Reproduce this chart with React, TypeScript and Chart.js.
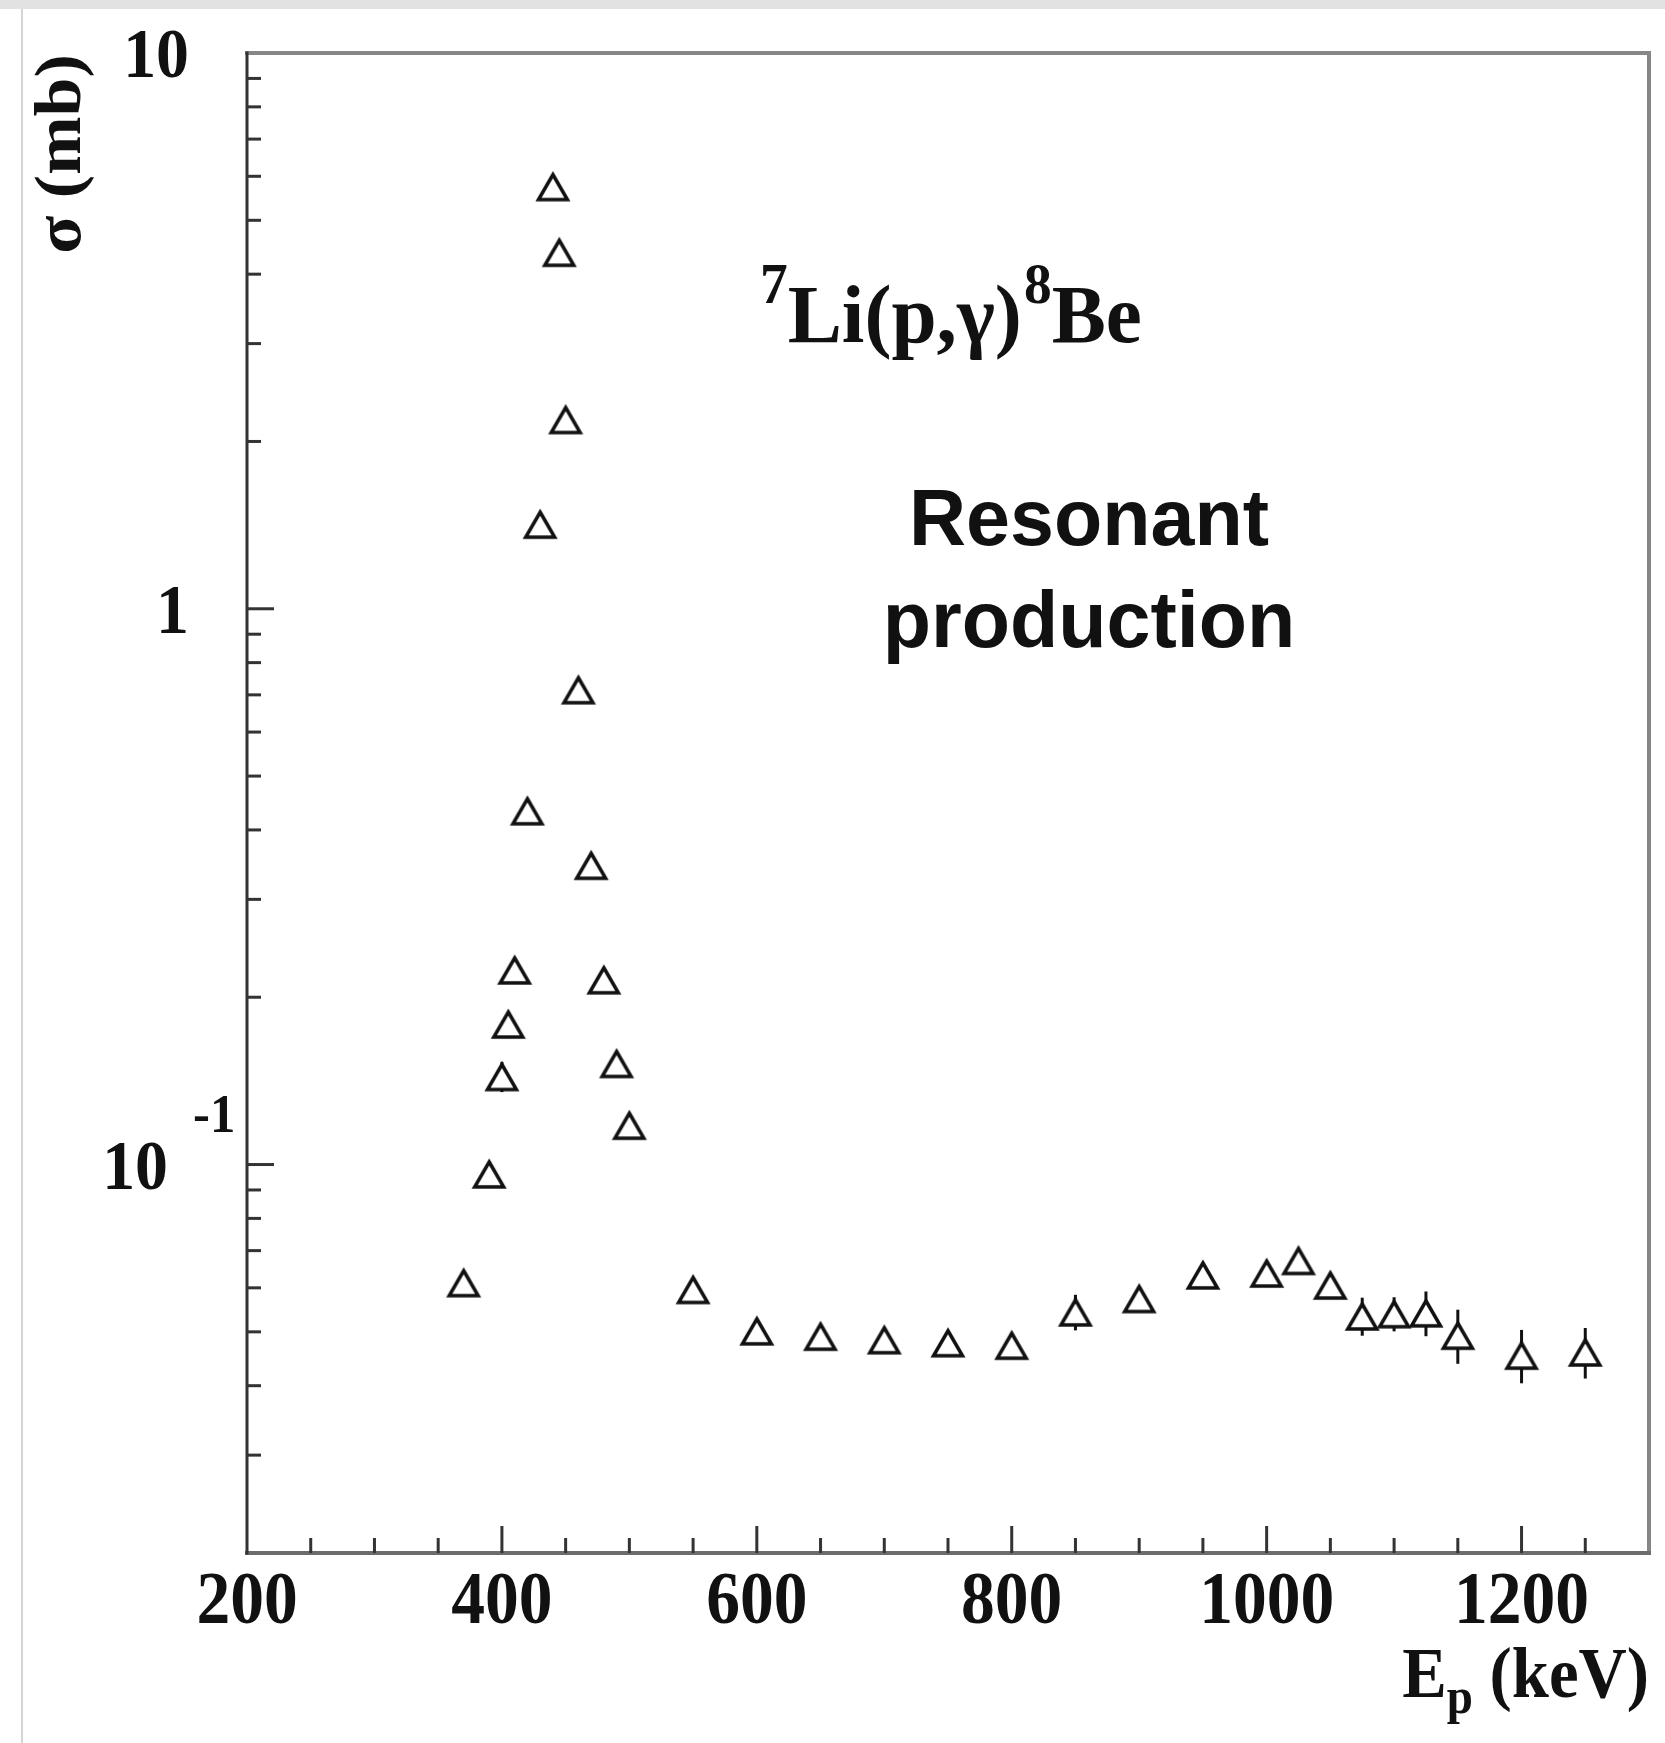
import React, { useEffect, useRef } from 'react';
import { Chart, registerables } from 'chart.js';

Chart.register(...registerables);

// Proton energy (keV) and measured cross section (mb) for 7Li(p,γ)8Be
const energyKeV = [
  370, 390, 400, 405, 410, 420, 430, 440, 445, 450, 460, 470, 480, 490, 500,
  550, 600, 650, 700, 750, 800, 850, 900, 950, 1000, 1025, 1050, 1075, 1100,
  1125, 1150, 1200, 1250,
];
const sigmaMb = [
  0.0613, 0.0962, 0.144, 0.179, 0.224, 0.433, 1.42, 5.75, 4.38, 2.19, 0.715,
  0.3455, 0.215, 0.152, 0.1177, 0.0596, 0.0502, 0.0491, 0.0484, 0.0478, 0.0473,
  0.0543, 0.0574, 0.0633, 0.0638, 0.0672, 0.0607, 0.0534, 0.0539, 0.0541,
  0.0493, 0.0454, 0.046,
];
const sigmaErr = [
  0.003, 0.004, 0.009, 0.008, 0.009, 0.015, 0.05, 0.2, 0.15, 0.08, 0.025,
  0.012, 0.008, 0.006, 0.005, 0.002, 0.002, 0.002, 0.002, 0.002, 0.002,
  0.004, 0.0025, 0.0025, 0.0025, 0.003, 0.0025, 0.0042, 0.0038, 0.005,
  0.0055, 0.005, 0.0048,
];

// Axis ranges and labelled ticks
const xRange = [200, 1300];
const yRange = [0.02, 10];
const xTickLabels = [200, 400, 600, 800, 1000, 1200];
const xMinorStep = 50;
const yTickLabels = [0.1, 1, 10];

const SERIF = '"Liberation Serif", "Times New Roman", serif';
const SANS = '"Liberation Sans", Arial, Helvetica, sans-serif';
const INK = '#111';

type Ctx = CanvasRenderingContext2D;

function drawText(
  ctx: Ctx,
  s: string,
  x: number,
  y: number,
  font: string,
  align: CanvasTextAlign,
  sx = 1,
): number {
  ctx.save();
  ctx.font = font;
  ctx.fillStyle = INK;
  ctx.textAlign = align;
  ctx.textBaseline = 'alphabetic';
  ctx.translate(x, y);
  ctx.scale(sx, 1);
  ctx.fillText(s, 0, 0);
  const w = ctx.measureText(s).width * sx;
  ctx.restore();
  return w;
}

function measure(ctx: Ctx, s: string, font: string, sx = 1): number {
  ctx.save();
  ctx.font = font;
  const w = ctx.measureText(s).width * sx;
  ctx.restore();
  return w;
}

// Open triangle marker, centred on its bounding box
function makeTriangleMarker(): HTMLCanvasElement {
  const c = document.createElement('canvas');
  c.width = 38;
  c.height = 36;
  const g = c.getContext('2d')!;
  g.lineWidth = 3.5;
  g.lineJoin = 'miter';
  g.strokeStyle = INK;
  g.fillStyle = '#fff';
  g.beginPath();
  g.moveTo(19, 6);
  g.lineTo(33.5, 31);
  g.lineTo(4.5, 31);
  g.closePath();
  g.fill();
  g.stroke();
  return c;
}

const pageBackground = {
  id: 'pageBackground',
  beforeDraw(chart: Chart) {
    const ctx = chart.ctx;
    const { width, height } = chart;
    ctx.save();
    ctx.fillStyle = '#fff';
    ctx.fillRect(0, 0, width, height);
    ctx.fillStyle = '#e2e2e2';
    ctx.fillRect(0, 0, width, 9);
    ctx.fillStyle = '#d4d4d4';
    ctx.fillRect(21, 9, 2, height - 9);
    ctx.restore();
  },
};

const errorBars = {
  id: 'errorBars',
  beforeDatasetsDraw(chart: Chart) {
    const ctx = chart.ctx;
    const xs = chart.scales.x;
    const ys = chart.scales.y;
    ctx.save();
    ctx.strokeStyle = INK;
    ctx.lineWidth = 3;
    energyKeV.forEach((e, i) => {
      const err = sigmaErr[i];
      if (!err) return;
      const px = xs.getPixelForValue(e);
      const top = ys.getPixelForValue(sigmaMb[i] + err);
      const bot = ys.getPixelForValue(Math.max(sigmaMb[i] - err, 1e-6));
      ctx.beginPath();
      ctx.moveTo(px, top);
      ctx.lineTo(px, bot);
      ctx.stroke();
    });
    ctx.restore();
  },
};

const frameAndLabels = {
  id: 'frameAndLabels',
  afterDatasetsDraw(chart: Chart) {
    const ctx = chart.ctx;
    const xs = chart.scales.x;
    const ys = chart.scales.y;
    const ca = chart.chartArea;

    ctx.save();
    // frame
    ctx.lineCap = 'square';
    ctx.strokeStyle = '#868686';
    ctx.lineWidth = 4;
    ctx.beginPath();
    ctx.moveTo(ca.left, ca.top);
    ctx.lineTo(ca.right, ca.top);
    ctx.lineTo(ca.right, ca.bottom);
    ctx.stroke();
    ctx.strokeStyle = '#6c6c6c';
    ctx.beginPath();
    ctx.moveTo(ca.left, ca.bottom);
    ctx.lineTo(ca.right, ca.bottom);
    ctx.stroke();
    ctx.strokeStyle = '#333';
    ctx.lineWidth = 3;
    ctx.beginPath();
    ctx.moveTo(ca.left, ca.top);
    ctx.lineTo(ca.left, ca.bottom);
    ctx.stroke();

    // x ticks (inward)
    ctx.lineCap = 'butt';
    ctx.strokeStyle = '#333';
    ctx.lineWidth = 3;
    for (let v = xRange[0] + xMinorStep; v < xRange[1]; v += xMinorStep) {
      const px = xs.getPixelForValue(v);
      const len = xTickLabels.includes(v) ? 27 : 15;
      ctx.beginPath();
      ctx.moveTo(px, ca.bottom);
      ctx.lineTo(px, ca.bottom - len);
      ctx.stroke();
    }
    // y ticks (inward), decades plus 2..9 subdivisions
    for (let d = 0.01; d < yRange[1] * 1.01; d *= 10) {
      for (let m = 1; m <= 9; m++) {
        const v = Math.round(m * d * 1e6) / 1e6;
        if (v <= yRange[0] * 1.0001 || v >= yRange[1] * 0.9999) continue;
        const py = ys.getPixelForValue(v);
        const len = m === 1 ? 27 : 14;
        ctx.beginPath();
        ctx.moveTo(ca.left, py);
        ctx.lineTo(ca.left + len, py);
        ctx.stroke();
      }
    }
    ctx.restore();

    // x tick labels
    for (const v of xTickLabels) {
      drawText(ctx, String(v), xs.getPixelForValue(v), ca.bottom + 70, `bold 75px ${SERIF}`, 'center', 0.9);
    }
    // y tick labels
    for (const v of yTickLabels) {
      const py = ys.getPixelForValue(v);
      const exp = Math.round(Math.log10(v));
      if (exp >= 0) {
        drawText(ctx, String(v), ca.left - 58, py + 24, `bold 70px ${SERIF}`, 'right', 0.94);
      } else {
        drawText(ctx, '10', ca.left - 79, py + 24, `bold 70px ${SERIF}`, 'right', 0.94);
        drawText(ctx, String(exp), ca.left - 54, py - 33, `bold 54px ${SERIF}`, 'left', 0.94);
      }
    }

    // y axis title
    ctx.save();
    ctx.translate(80, ca.top + 101);
    ctx.rotate(-Math.PI / 2);
    ctx.scale(1, 0.95);
    ctx.font = `bold 70px ${SERIF}`;
    ctx.fillStyle = INK;
    ctx.textAlign = 'center';
    ctx.textBaseline = 'alphabetic';
    ctx.fillText('σ (mb)', 0, 0);
    ctx.restore();

    // x axis title: E_p (keV), right aligned to the frame
    const big = `bold 71px ${SERIF}`;
    const sub = `bold 50px ${SERIF}`;
    const sx = 0.94;
    const total = measure(ctx, 'E', big, sx) + measure(ctx, 'p', sub, sx) + measure(ctx, ' (keV)', big, sx);
    let tx = ca.right - total;
    const tb = ca.bottom + 144;
    tx += drawText(ctx, 'E', tx, tb, big, 'left', sx);
    tx += drawText(ctx, 'p', tx, tb + 16, sub, 'left', sx);
    drawText(ctx, ' (keV)', tx, tb, big, 'left', sx);

    // reaction label 7Li(p,γ)8Be
    const main = `bold 82px ${SERIF}`;
    const sup = `bold 56px ${SERIF}`;
    const rs = 0.99;
    let rx = 760;
    const rb = 342;
    rx += drawText(ctx, '7', rx, rb - 39, sup, 'left', rs);
    rx += drawText(ctx, 'Li(p,γ)', rx, rb, main, 'left', rs);
    rx += drawText(ctx, '8', rx + 2, rb - 39, sup, 'left', rs) + 2;
    drawText(ctx, 'Be', rx, rb, main, 'left', rs);

    // annotation
    drawText(ctx, 'Resonant', 1089, 545, `bold 79px ${SANS}`, 'center');
    drawText(ctx, 'production', 1089, 647, `bold 79px ${SANS}`, 'center');
  },
};

export default function App() {
  const ref = useRef<HTMLCanvasElement | null>(null);

  useEffect(() => {
    const canvas = ref.current;
    if (!canvas) return;
    const marker = makeTriangleMarker();
    const chart = new Chart(canvas, {
      type: 'scatter',
      data: {
        datasets: [
          {
            label: '7Li(p,γ)8Be',
            data: energyKeV.map((x, i) => ({ x, y: sigmaMb[i] })),
            pointStyle: marker as any,
            pointRadius: 15,
            pointHoverRadius: 15,
            showLine: false,
          },
        ],
      },
      options: {
        responsive: false,
        animation: false,
        devicePixelRatio: 1,
        layout: { padding: { left: 247, top: 53, right: 13, bottom: 190 } },
        plugins: {
          legend: { display: false },
          tooltip: { enabled: false },
        },
        scales: {
          x: {
            type: 'linear',
            min: xRange[0],
            max: xRange[1],
            ticks: { display: false },
            grid: { display: false, drawTicks: false },
            border: { display: false },
          },
          y: {
            type: 'logarithmic',
            min: yRange[0],
            max: yRange[1],
            ticks: { display: false },
            grid: { display: false, drawTicks: false },
            border: { display: false },
          },
        },
      },
      plugins: [pageBackground, errorBars, frameAndLabels],
    });
    return () => chart.destroy();
  }, []);

  return (
    <canvas
      ref={ref}
      width={1665}
      height={1743}
      style={{ position: 'absolute', left: 0, top: 0, display: 'block' }}
    />
  );
}
